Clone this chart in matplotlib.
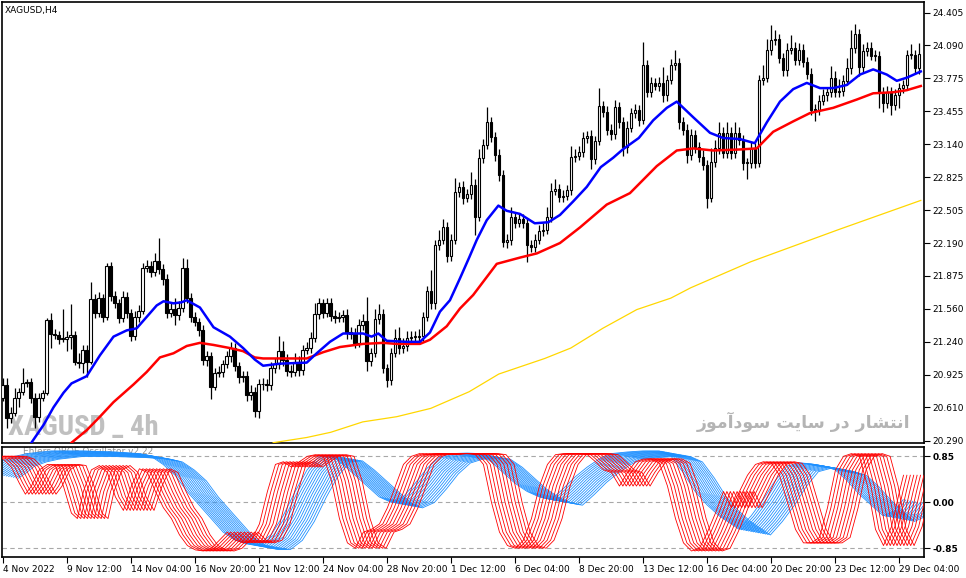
import numpy as np
import matplotlib.pyplot as plt
from matplotlib import font_manager

# XAGUSD H4 candles, 4 Nov 2022 -> 29 Dec 2022 (bar index 0..229)
closes = [
    20.82, 20.51, 20.56, 20.70, 20.76, 20.84, 20.85, 20.70, 20.52, 20.70,
    20.75, 21.45, 21.32, 21.31, 21.27, 21.27, 21.29, 21.31, 21.05, 21.04,
    21.16, 21.05, 21.65, 21.52, 21.66, 21.48, 21.97, 21.68, 21.61, 21.47,
    21.67, 21.52, 21.30, 21.48, 21.54, 21.95, 21.97, 21.91, 22.02, 21.94,
    21.84, 21.52, 21.56, 21.50, 21.57, 21.95, 21.66, 21.48, 21.43, 21.35,
    21.07, 21.10, 20.81, 20.94, 20.95, 21.03, 21.10, 21.18, 21.01, 20.90,
    20.91, 20.73, 20.76, 20.57, 20.83, 20.83, 20.82, 20.99, 21.03, 21.15,
    21.07, 20.96, 20.95, 21.05, 20.97, 21.16, 21.18, 21.28, 21.51, 21.61,
    21.52, 21.61, 21.49, 21.47, 21.48, 21.50, 21.33, 21.32, 21.23, 21.40,
    21.44, 21.06, 21.13, 21.46, 21.51, 20.99, 20.87, 21.13, 21.28, 21.18,
    21.20, 21.28, 21.29, 21.29, 21.30, 21.48, 21.73, 21.61, 22.17, 22.22,
    22.34, 22.07, 22.22, 22.68, 22.73, 22.62, 22.66, 22.75, 22.44, 23.01,
    23.13, 23.35, 23.21, 23.04, 22.84, 22.20, 22.22, 22.44, 22.38, 22.42,
    22.38, 22.17, 22.15, 22.22, 22.31, 22.32, 22.44, 22.69, 22.71, 22.63,
    22.64, 22.70, 23.02, 23.03, 23.07, 23.20, 23.22, 23.00, 23.17, 23.51,
    23.45, 23.28, 23.24, 23.50, 23.35, 23.11, 23.30, 23.44, 23.47, 23.37,
    23.90, 23.64, 23.73, 23.70, 23.73, 23.61, 23.76, 23.90, 23.92, 23.35,
    23.28, 23.04, 23.23, 23.11, 23.02, 22.94, 22.62, 22.97, 23.10, 23.25,
    23.06, 23.25, 23.06, 23.25, 23.18, 22.96, 22.96, 23.10, 22.96, 23.76,
    23.78, 24.05, 24.14, 24.15, 23.97, 23.85, 24.05, 24.07, 23.95, 24.05,
    23.93, 23.82, 23.47, 23.47, 23.56, 23.61, 23.64, 23.78, 23.64, 23.65,
    23.75, 23.87, 24.07, 24.20, 23.88, 24.04, 24.07, 23.99, 23.99, 23.64,
    23.54, 23.64, 23.52, 23.61, 23.68, 23.71, 24.00, 24.00, 23.87, 24.01,
]
first_open = 20.70

wick_up = [
    0.07, 0.07, 0.05, 0.10, 0.04, 0.15, 0.03, 0.04, 0.05, 0.05,
    0.03, 0.02, 0.07, 0.04, 0.03, 0.29, 0.05, 0.29, 0.03, 0.08,
    0.05, 0.05, 0.17, 0.05, 0.06, 0.04, 0.03, 0.04, 0.05, 0.04,
    0.06, 0.05, 0.04, 0.06, 0.05, 0.05, 0.06, 0.05, 0.07, 0.22,
    0.05, 0.05, 0.06, 0.10, 0.06, 0.10, 0.09, 0.05, 0.05, 0.04,
    0.05, 0.05, 0.04, 0.05, 0.06, 0.04, 0.05, 0.06, 0.05, 0.04,
    0.05, 0.05, 0.06, 0.05, 0.05, 0.06, 0.05, 0.06, 0.05, 0.15,
    0.10, 0.05, 0.06, 0.08, 0.05, 0.05, 0.06, 0.05, 0.10, 0.05,
    0.04, 0.05, 0.05, 0.06, 0.05, 0.05, 0.06, 0.05, 0.05, 0.06,
    0.07, 0.23, 0.05, 0.10, 0.09, 0.05, 0.04, 0.05, 0.08, 0.10,
    0.08, 0.06, 0.05, 0.05, 0.06, 0.05, 0.05, 0.20, 0.05, 0.10,
    0.08, 0.05, 0.06, 0.14, 0.05, 0.06, 0.05, 0.12, 0.06, 0.08,
    0.06, 0.15, 0.05, 0.05, 0.05, 0.05, 0.06, 0.10, 0.05, 0.06,
    0.05, 0.05, 0.05, 0.06, 0.05, 0.06, 0.10, 0.08, 0.10, 0.05,
    0.06, 0.05, 0.10, 0.06, 0.05, 0.06, 0.05, 0.06, 0.05, 0.17,
    0.05, 0.06, 0.05, 0.07, 0.05, 0.05, 0.06, 0.05, 0.06, 0.05,
    0.22, 0.05, 0.06, 0.05, 0.06, 0.15, 0.05, 0.06, 0.13, 0.05,
    0.05, 0.05, 0.06, 0.05, 0.05, 0.06, 0.05, 0.13, 0.08, 0.10,
    0.06, 0.10, 0.06, 0.10, 0.06, 0.05, 0.05, 0.06, 0.05, 0.05,
    0.12, 0.10, 0.15, 0.09, 0.05, 0.05, 0.06, 0.12, 0.05, 0.06,
    0.05, 0.05, 0.05, 0.06, 0.05, 0.06, 0.05, 0.11, 0.06, 0.12,
    0.06, 0.10, 0.17, 0.10, 0.05, 0.06, 0.05, 0.05, 0.06, 0.05,
    0.05, 0.06, 0.05, 0.06, 0.05, 0.05, 0.05, 0.10, 0.05, 0.10,
]
wick_dn = [
    0.03, 0.10, 0.05, 0.03, 0.09, 0.03, 0.03, 0.05, 0.11, 0.05,
    0.03, 0.02, 0.14, 0.04, 0.05, 0.03, 0.12, 0.12, 0.03, 0.05,
    0.10, 0.15, 0.02, 0.05, 0.04, 0.05, 0.03, 0.05, 0.04, 0.05,
    0.04, 0.05, 0.05, 0.04, 0.05, 0.03, 0.04, 0.05, 0.04, 0.05,
    0.05, 0.05, 0.04, 0.10, 0.05, 0.04, 0.05, 0.05, 0.04, 0.05,
    0.05, 0.06, 0.12, 0.03, 0.04, 0.05, 0.04, 0.05, 0.05, 0.06,
    0.05, 0.06, 0.05, 0.05, 0.06, 0.05, 0.05, 0.04, 0.05, 0.05,
    0.06, 0.05, 0.05, 0.04, 0.06, 0.05, 0.04, 0.05, 0.04, 0.05,
    0.05, 0.04, 0.05, 0.05, 0.04, 0.05, 0.06, 0.05, 0.05, 0.04,
    0.05, 0.10, 0.05, 0.04, 0.05, 0.05, 0.06, 0.05, 0.04, 0.06,
    0.05, 0.05, 0.04, 0.05, 0.04, 0.05, 0.04, 0.05, 0.05, 0.05,
    0.04, 0.06, 0.05, 0.04, 0.05, 0.05, 0.04, 0.05, 0.17, 0.04,
    0.05, 0.04, 0.05, 0.06, 0.05, 0.05, 0.06, 0.05, 0.05, 0.04,
    0.05, 0.16, 0.05, 0.05, 0.04, 0.05, 0.04, 0.05, 0.04, 0.05,
    0.05, 0.04, 0.05, 0.05, 0.04, 0.05, 0.05, 0.10, 0.05, 0.04,
    0.05, 0.05, 0.06, 0.05, 0.05, 0.08, 0.05, 0.04, 0.05, 0.05,
    0.04, 0.05, 0.05, 0.04, 0.05, 0.06, 0.05, 0.04, 0.05, 0.06,
    0.05, 0.08, 0.05, 0.05, 0.05, 0.05, 0.09, 0.04, 0.05, 0.05,
    0.05, 0.05, 0.06, 0.05, 0.05, 0.07, 0.15, 0.05, 0.05, 0.04,
    0.05, 0.04, 0.05, 0.05, 0.05, 0.05, 0.05, 0.04, 0.05, 0.05,
    0.05, 0.05, 0.05, 0.11, 0.05, 0.04, 0.05, 0.05, 0.05, 0.05,
    0.05, 0.04, 0.05, 0.05, 0.08, 0.05, 0.05, 0.04, 0.05, 0.15,
    0.09, 0.05, 0.10, 0.05, 0.12, 0.05, 0.05, 0.04, 0.05, 0.05,
]

# moving averages (bar, price)
ma_fast_x = [7, 10.2, 12.7, 15.2, 17.2, 21, 24.3, 27.7, 31, 33.5, 36, 38.5, 40.2, 42.7,
             44.7, 46, 49.3, 52.7, 56.8, 60.1, 63, 65.1, 69.3, 76, 78.5, 81.8, 85.1,
             90.1, 92.2, 93.9, 96, 101, 104.3, 106.8, 109.3, 111.8, 114.3, 116.6,
             118.5, 121, 123.9, 126, 129.3, 133, 136.4, 139.3, 142.6, 146, 149.5,
             152.6, 155, 159, 162.6, 166, 168.5, 172.6, 176.8, 180.1, 184.3, 188,
             191, 194.3, 197.6, 201, 204.3, 207.6, 211, 214.3, 217.6, 221, 223.5,
             226, 229.5]
ma_fast_y = [20.26, 20.44, 20.61, 20.75, 20.84, 20.91, 21.11, 21.29, 21.35, 21.37, 21.48,
             21.59, 21.63, 21.61, 21.62, 21.64, 21.57, 21.38, 21.29, 21.18, 21.07,
             21.01, 21.03, 21.04, 21.13, 21.24, 21.32, 21.32, 21.29, 21.32, 21.25,
             21.24, 21.24, 21.33, 21.53, 21.64, 21.85, 22.05, 22.22, 22.41, 22.55,
             22.50, 22.47, 22.38, 22.39, 22.46, 22.59, 22.73, 22.92, 23.01, 23.09,
             23.20, 23.37, 23.49, 23.55, 23.40, 23.25, 23.20, 23.19, 23.15, 23.35,
             23.55, 23.67, 23.73, 23.68, 23.68, 23.71, 23.81, 23.86, 23.81, 23.75,
             23.78, 23.84]
ma_slow_x = [17.2, 21, 24.3, 27.7, 32.7, 36, 39.3, 42.7, 46, 49.3, 52.7, 56.8, 60.1, 63,
             65.1, 76, 80.1, 84.3, 90.1, 95.1, 98.5, 104.3, 106.8, 111, 114.3, 117.6,
             123.5, 129.3, 133.5, 139.3, 144.3, 151, 156.8, 163.5, 168.5, 172.6,
             177.6, 184.3, 188.5, 192.6, 197.6, 201.8, 207.6, 213.5, 217.6, 222.6,
             226, 229.5]
ma_slow_y = [20.27, 20.39, 20.52, 20.66, 20.83, 20.95, 21.09, 21.13, 21.20, 21.23, 21.21,
             21.18, 21.15, 21.09, 21.08, 21.08, 21.14, 21.19, 21.22, 21.23, 21.22,
             21.22, 21.26, 21.39, 21.56, 21.69, 21.99, 22.05, 22.09, 22.19, 22.34,
             22.56, 22.67, 22.93, 23.08, 23.10, 23.08, 23.09, 23.10, 23.26, 23.36,
             23.44, 23.49, 23.57, 23.63, 23.64, 23.66, 23.70]
ma_long_x = [67.6, 76, 82, 90, 98.5, 107, 116.6, 124, 135.5, 142, 150, 158.5, 167, 172,
             187, 209, 229.5]
ma_long_y = [20.27, 20.32, 20.37, 20.47, 20.52, 20.60, 20.76, 20.93, 21.08, 21.18, 21.37,
             21.55, 21.66, 21.76, 22.01, 22.32, 22.60]

# oscillator centre lines (bar, value)
osc_red_x = [0, 2, 4, 6, 8, 9.5, 11, 13, 15, 17, 19, 21, 22.5, 24, 26, 28, 30, 32, 34,
             36, 38, 40, 42, 44, 46, 48, 50, 52, 54, 56, 58, 60, 62, 64, 66, 68, 70,
             72, 74, 76, 78, 80, 82, 84, 86, 88, 90, 92, 94, 96, 98, 100, 102, 104,
             106, 108, 110, 112, 114, 116, 118, 120, 122, 124, 126, 128, 130, 132,
             134, 136, 138, 140, 142, 144, 146, 148, 150, 152, 154, 156, 158, 160,
             162, 164, 166, 168, 170, 172, 174, 176, 178, 180, 182, 184, 186, 188,
             190, 192, 194, 196, 198, 200, 202, 204, 206, 208, 210, 212, 214, 216,
             218, 220, 222, 224, 226, 228, 229]
osc_red_v = [0.85, 0.85, 0.80, 0.65, 0.35, 0.15, 0.30, 0.60, 0.70, 0.68, 0.30, -0.20,
             -0.30, 0.20, 0.60, 0.68, 0.55, 0.10, -0.15, 0.30, 0.62, 0.55, 0.20, -0.10,
             -0.30, -0.60, -0.80, -0.88, -0.90, -0.85, -0.70, -0.55, -0.70, -0.75,
             -0.70, -0.40, 0.20, 0.70, 0.75, 0.65, 0.75, 0.85, 0.88, 0.85, 0.40,
             -0.30, -0.75, -0.85, -0.55, -0.50, -0.40, -0.10, 0.30, 0.70, 0.85, 0.90,
             0.88, 0.90, 0.90, 0.90, 0.90, 0.90, 0.88, 0.70, 0.00, -0.55, -0.80,
             -0.85, -0.70, -0.30, 0.30, 0.70, 0.88, 0.90, 0.90, 0.90, 0.88, 0.75,
             0.60, 0.55, 0.30, 0.55, 0.75, 0.80, 0.80, 0.72, 0.30, -0.30, -0.75,
             -0.90, -0.85, -0.55, -0.20, 0.20, -0.10, 0.20, 0.50, 0.70, 0.75, 0.72,
             0.50, 0.00, -0.50, -0.75, -0.75, -0.65, -0.10, 0.60, 0.85, 0.90, 0.85,
             0.30, -0.50, -0.80, -0.45, 0.20, 0.50]
osc_blue_x = [0, 2, 4, 7, 10, 16, 24, 32, 38, 41, 44, 47, 50, 53, 56, 59, 62, 65, 68, 71,
              74, 77, 80, 83, 86, 89, 92, 95, 98, 101, 104, 107, 110, 113, 116, 120,
              123, 126, 129, 132, 135, 138, 141, 144, 147, 150, 153, 156, 160, 164,
              168, 171, 174, 177, 180, 183, 186, 188, 191, 194, 197, 200, 203, 206,
              209, 212, 215, 218, 221, 224, 227, 229]
osc_blue_v = [0.50, 0.60, 0.72, 0.80, 0.85, 0.90, 0.90, 0.88, 0.85, 0.80, 0.65, 0.45,
              0.15, -0.10, -0.35, -0.60, -0.75, -0.82, -0.82, -0.65, -0.30, 0.15, 0.55,
              0.80, 0.82, 0.65, 0.45, 0.25, 0.05, -0.05, 0.05, 0.30, 0.58, 0.78, 0.85,
              0.86, 0.85, 0.70, 0.50, 0.30, 0.15, 0.05, 0.00, 0.20, 0.42, 0.60, 0.75,
              0.85, 0.88, 0.90, 0.90, 0.80, 0.50, 0.15, -0.10, -0.30, -0.45, -0.55,
              -0.30, 0.00, 0.35, 0.62, 0.68, 0.66, 0.62, 0.55, 0.35, 0.10, -0.10,
              -0.30, -0.20, 0.00]
osc_levels = [0.85, 0.0, -0.85]

price_ticks = [24.405, 24.090, 23.775, 23.455, 23.140, 22.825, 22.505, 22.190,
               21.875, 21.560, 21.240, 20.925, 20.610, 20.290]
time_ticks = list(range(0, 225, 16))
time_labels = ["4 Nov 2022", "9 Nov 12:00", "14 Nov 04:00", "16 Nov 20:00",
               "21 Nov 12:00", "24 Nov 04:00", "28 Nov 20:00", "1 Dec 12:00",
               "6 Dec 04:00", "8 Dec 20:00", "13 Dec 12:00", "16 Dec 04:00",
               "20 Dec 20:00", "23 Dec 12:00", "29 Dec 04:00"]

# "انتشار در سایت سودآموز" in shaped presentation forms, visual order
watermark_fa = ("\uFEAF\uFEEE\uFEE3\uFE81\uFEA9\uFEEE\uFEB3 \uFE96\uFEF3\uFE8E\uFEB3 "
                "\uFEAD\uFEA9 \uFEAD\uFE8E\uFEB8\uFE98\uFEE7\uFE8D")

# pick a narrow bold face for the symbol watermark if one is installed
installed = {f.name for f in font_manager.fontManager.ttflist}
narrow = [n for n in ["Liberation Sans Narrow", "Arial Narrow", "Roboto Condensed",
                      "Open Sans Condensed"] if n in installed]
if narrow:
    wm_family, wm_size = [narrow[0]], 20.5
else:
    wm_family, wm_size = ["Liberation Sans"], 16

W, H = 966, 578
fig = plt.figure(figsize=(W / 100, H / 100), dpi=100)
ax = fig.add_axes([2 / W, 1 - 443 / H, 922 / W, 441 / H])
ax2 = fig.add_axes([2 / W, 1 - 557 / H, 922 / W, 110 / H])

# --- price panel ---
closes = np.array(closes)
bars = np.arange(len(closes))
opens = np.r_[first_open, closes[:-1]]
highs = np.maximum(opens, closes) + np.array(wick_up)
lows = np.minimum(opens, closes) - np.array(wick_dn)
bull = closes >= opens

ax.vlines(bars, lows, highs, color="black", lw=0.9, zorder=2)
body_lo = np.minimum(opens, closes)
body_h = np.maximum(np.abs(closes - opens), 0.006)
ax.bar(bars, body_h, bottom=body_lo, width=0.62,
       color=np.where(bull, "white", "black"), edgecolor="black", lw=0.8, zorder=3)

ax.plot(ma_long_x, ma_long_y, color="#ffd700", lw=0.9, zorder=4)
ax.plot(ma_slow_x, ma_slow_y, color="#ff0000", lw=1.8, zorder=5)
ax.plot(ma_fast_x, ma_fast_y, color="#0000ff", lw=1.8, zorder=6)

ax.set_xlim(-0.175, 230.3)
ax.set_ylim(20.267, 24.508)
ax.set_xticks([])
ax.yaxis.tick_right()
ax.set_yticks(price_ticks)
ax.set_yticklabels([f"{t:.3f}" for t in price_ticks])
ax.tick_params(axis="y", direction="out", length=4, width=0.8, pad=2, labelsize=6.5)

ax.text(5 / W, 1 - 11 / H, "XAGUSD,H4", transform=fig.transFigure, fontsize=6.5,
        va="center", ha="left")
ax.text(8 / W, 1 - 435 / H, "XAGUSD _ 4h", transform=fig.transFigure, fontsize=wm_size,
        fontweight="bold", color="#c0c0c0", va="baseline", ha="left", zorder=1,
        family=wm_family)
ax.text(910 / W, 1 - 422 / H, watermark_fa, transform=fig.transFigure, fontsize=12.5,
        fontweight="bold", color="#b4b4b4", va="center", ha="right", zorder=1,
        family=["DejaVu Sans"])

# --- oscillator panel ---
for lvl in osc_levels:
    ax2.axhline(lvl, color="#a8a8a8", ls=(0, (4, 3)), lw=0.8, zorder=1)
ax2.text(5, 0.93, "Ehlers OBOE Oscillator v2.22", fontsize=6.5, color="#909090",
         va="center", ha="left", zorder=1)

bx = np.array(osc_blue_x, dtype=float)
bv = np.array(osc_blue_v)
for k in range(14):
    ax2.plot(bx + (k - 6.5) * 0.6, bv + 0.05 - 0.008 * k, color="#1e90ff", lw=0.6, zorder=2)
rx = np.array(osc_red_x, dtype=float)
rv = np.array(osc_red_v)
for k in range(10):
    ax2.plot(rx + (k - 4.5) * 0.85, rv, color="#ff0000", lw=0.6, zorder=3)

ax2.set_xlim(-0.175, 230.3)
ax2.set_ylim(-1.011, 1.022)
ax2.yaxis.tick_right()
ax2.set_yticks(osc_levels)
ax2.set_yticklabels(["0.85", "0.00", "-0.85"], fontweight="bold")
ax2.tick_params(axis="y", direction="out", length=4, width=0.8, pad=2, labelsize=6.5)
ax2.set_xticks(time_ticks)
ax2.set_xticklabels(time_labels, ha="left")
ax2.tick_params(axis="x", direction="out", length=4, width=0.8, pad=2, labelsize=6.5)

for a in (ax, ax2):
    for s in a.spines.values():
        s.set_linewidth(1.2)

fig.savefig("out.png", dpi=100)
